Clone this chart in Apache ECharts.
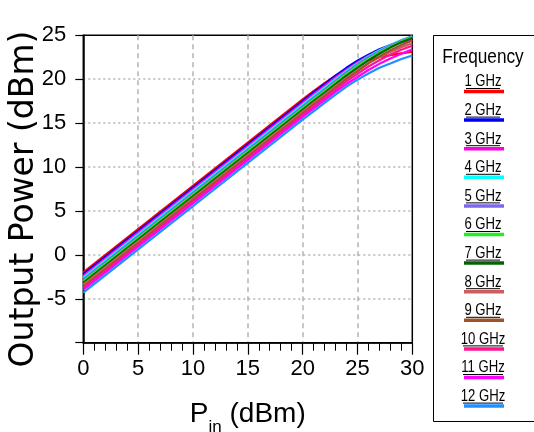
<!DOCTYPE html>
<html>
<head>
<meta charset="utf-8">
<script src="https://cdn.jsdelivr.net/npm/echarts@6/dist/echarts.min.js"></script>
<style>html,body{margin:0;padding:0;background:#fff}#c{width:534px;height:432px}</style>
</head>
<body>
<div id="c"></div>
<script>
// Input power (dBm) sample points
const pin = [0, 10, 20, 21, 22, 23, 24, 25, 26, 27, 28, 29, 30];
// Output power (dBm) per frequency
const f1GHz  = [-2.0, 7.85, 17.7, 18.65, 19.55, 20.4, 21.15, 21.7, 22.15, 22.5, 22.75, 22.95, 23.15];
const f2GHz  = [-2.2, 7.65, 17.5, 18.5, 19.45, 20.4, 21.3, 22.1, 22.8, 23.4, 23.9, 24.3, 24.6];
const f3GHz  = [-2.4, 7.45, 17.3, 18.3, 19.25, 20.2, 21.1, 21.9, 22.65, 23.25, 23.8, 24.2, 24.5];
const f4GHz  = [-2.6, 7.25, 17.1, 18.1, 19.05, 20.0, 20.95, 21.8, 22.6, 23.3, 23.9, 24.45, 24.9];
const f5GHz  = [-2.8, 7.05, 16.9, 17.9, 18.85, 19.85, 20.8, 21.7, 22.5, 23.2, 23.85, 24.4, 24.9];
const f6GHz  = [-3.0, 6.85, 16.7, 17.7, 18.65, 19.65, 20.6, 21.5, 22.3, 23.05, 23.7, 24.3, 24.8];
const f7GHz  = [-3.2, 6.65, 16.5, 17.5, 18.45, 19.45, 20.4, 21.3, 22.15, 22.9, 23.6, 24.2, 24.7];
const f8GHz  = [-3.4, 6.45, 16.3, 17.3, 18.25, 19.2, 20.15, 21.0, 21.85, 22.5, 23.1, 23.65, 24.1];
const f9GHz  = [-3.6, 6.25, 16.1, 17.1, 18.05, 19.05, 20.0, 20.9, 21.8, 22.6, 23.3, 23.9, 24.4];
const f10GHz = [-3.8, 6.05, 15.9, 16.9, 17.85, 18.8, 19.75, 20.6, 21.45, 22.15, 22.8, 23.35, 23.8];
const f11GHz = [-4.0, 5.85, 15.7, 16.65, 17.6, 18.55, 19.45, 20.25, 21.05, 21.75, 22.35, 22.9, 23.4];
const f12GHz = [-4.3, 5.55, 15.4, 16.35, 17.3, 18.25, 19.15, 19.95, 20.65, 21.3, 21.8, 22.3, 22.7];

const freqLabels = ['1 GHz','2 GHz','3 GHz','4 GHz','5 GHz','6 GHz','7 GHz','8 GHz','9 GHz','10 GHz','11 GHz','12 GHz'];
const seriesValues = [f1GHz,f2GHz,f3GHz,f4GHz,f5GHz,f6GHz,f7GHz,f8GHz,f9GHz,f10GHz,f11GHz,f12GHz];
const colors = ['#ff0000','#0000ee','#ff00dd','#00ffff','#7b68ee','#22ee22','#006400','#cd5c5c','#a0522d','#ff1493','#ff00ff','#1e90ff'];

const sans = "'Liberation Sans',Arial,sans-serif";

const chart = echarts.init(document.getElementById('c'), null, {renderer:'canvas'});

const series = seriesValues.map((vals, i) => ({
  name: freqLabels[i],
  type: 'line',
  data: pin.map((x, k) => [x, vals[k]]),
  smooth: false,
  showSymbol: false,
  lineStyle: {color: colors[i], width: 2.2},
  itemStyle: {color: colors[i]},
  z: 2 + i
}));

// Legend drawn as graphic elements (text condensed horizontally)
const graphics = [
  {type:'rect', shape:{x:433.5, y:35.5, width:120, height:386}, style:{fill:'none', stroke:'#000', lineWidth:1}},
  {type:'text', x:483, y:68, scaleX:0.82, style:{text:'Frequency', x:0, y:0, align:'center', verticalAlign:'bottom', font:'21px ' + sans, fill:'#000'}}
];
freqLabels.forEach((lab, i) => {
  const base = 87 + i * 28.6;
  const w = lab.length > 5 ? 40 : 34;
  graphics.push({type:'text', x:483, y:base + 3, scaleX:0.82, style:{text:lab, x:0, y:0, align:'center', verticalAlign:'bottom', font:'16px ' + sans, fill:'#000'}});
  graphics.push({type:'line', shape:{x1:483 - w/2, y1:base + 1.5, x2:483 + w/2, y2:base + 1.5}, style:{stroke:'#000', lineWidth:1}});
  graphics.push({type:'line', shape:{x1:464, y1:base + 4.5, x2:504, y2:base + 4.5}, style:{stroke:colors[i], lineWidth:3.5}});
});

chart.setOption({
  animation: false,
  backgroundColor: '#fff',
  grid: {left: 83.3, right: 121.7, top: 35.3, bottom: 89.3, outerBoundsMode: 'none', containLabel: false, show: true, borderColor: '#000', borderWidth: 1.5, backgroundColor: 'transparent'},
  xAxis: {
    type: 'value', min: 0, max: 30, interval: 5,
    axisLine: {onZero: false, lineStyle: {color: '#000', width: 1.5}},
    axisTick: {show: true, length: 12, lineStyle: {color: '#000', width: 1.2}},
    minorTick: {show: true, splitNumber: 5, length: 8, lineStyle: {color: '#000', width: 1}},
    axisLabel: {color: '#000', fontSize: 22, fontFamily: sans, margin: 15},
    splitLine: {show: true, showMinLine: false, showMaxLine: false, lineStyle: {color: '#b4b4b4', type: [5, 4], width: 1.5}},
    name: '{a|P}{b|in}{a| (dBm)}',
    nameLocation: 'middle', nameGap: 58, nameMoveOverlap: false,
    nameTextStyle: {
      rich: {
        a: {fontSize: 28, fontFamily: sans, color: '#000', verticalAlign: 'bottom'},
        b: {fontSize: 17, fontFamily: sans, color: '#000', verticalAlign: 'bottom', padding: [0, 0, -7, 0]}
      }
    }
  },
  yAxis: {
    type: 'value', min: -10, max: 25, interval: 5,
    axisLine: {onZero: false, lineStyle: {color: '#000', width: 1.5}},
    axisTick: {show: true, length: 8, lineStyle: {color: '#000', width: 1.2}},
    axisLabel: {color: '#000', fontSize: 22, fontFamily: sans, margin: 17, formatter: v => v === -10 ? '' : String(v)},
    splitLine: {show: true, showMinLine: false, showMaxLine: false, lineStyle: {color: '#b4b4b4', type: [2, 3], width: 1.5}},
    name: 'Output Power (dBm)',
    nameLocation: 'middle', nameGap: 42, nameRotate: 90, nameMoveOverlap: false,
    nameTextStyle: {fontSize: 33, fontFamily: "'DejaVu Sans',sans-serif", color: '#000', padding: [0, 20, 0, 0]}
  },
  graphic: graphics,
  series: series
});
</script>
</body>
</html>
